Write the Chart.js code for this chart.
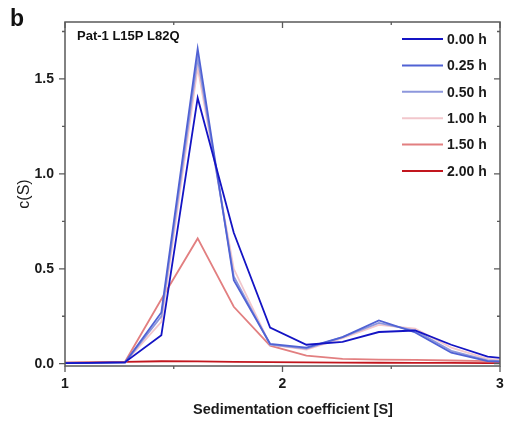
<!DOCTYPE html>
<html>
<head>
<meta charset="utf-8">
<script src="https://cdn.jsdelivr.net/npm/chart.js@4.4.1/dist/chart.umd.min.js"></script>
<style>
  html, body { margin: 0; padding: 0; background: #fff; }
  #wrap { width: 507px; height: 423px; }
</style>
</head>
<body>
<div id="wrap"><canvas id="sedChart" width="507" height="423"></canvas></div>
<script>
// sedimentation coefficient grid (S)
const sValues = [0.943, 1.11, 1.276, 1.443, 1.61, 1.776, 1.943, 2.11, 2.276, 2.443, 2.61, 2.776, 2.943, 3.11];

const c000h = [0.003, 0.004, 0.008, 0.15, 1.40, 0.69, 0.19, 0.10, 0.115, 0.167, 0.175, 0.10, 0.037, 0.02];
const c025h = [0.003, 0.004, 0.006, 0.27, 1.66, 0.44, 0.105, 0.085, 0.14, 0.228, 0.165, 0.058, 0.014, 0.005];
const c050h = [0.003, 0.004, 0.006, 0.25, 1.61, 0.46, 0.10, 0.08, 0.14, 0.215, 0.175, 0.068, 0.018, 0.006];
const c100h = [0.003, 0.004, 0.006, 0.22, 1.56, 0.50, 0.10, 0.075, 0.135, 0.205, 0.185, 0.085, 0.025, 0.01];
const c150h = [0.004, 0.006, 0.01, 0.34, 0.66, 0.30, 0.095, 0.043, 0.026, 0.022, 0.02, 0.017, 0.014, 0.012];
const c200h = [0.005, 0.007, 0.01, 0.013, 0.012, 0.01, 0.008, 0.007, 0.006, 0.005, 0.004, 0.004, 0.003, 0.003];

const seriesLabels = ['0.00 h', '0.25 h', '0.50 h', '1.00 h', '1.50 h', '2.00 h'];
const seriesColors = ['#1414c4', '#5062d4', '#8d97dc', '#f2c7cc', '#e27f80', '#c2161e'];

const yTicks = [0, 0.25, 0.5, 0.75, 1.0, 1.25, 1.5, 1.75];
const xTicks = [1, 1.5, 2, 2.5, 3];

const allSeries = [c000h, c025h, c050h, c100h, c150h, c200h];

const datasets = allSeries.map((vals, i) => ({
  label: seriesLabels[i],
  data: vals.map((v, j) => ({ x: sValues[j], y: v })),
  borderColor: seriesColors[i],
  backgroundColor: seriesColors[i],
  borderWidth: 1.8,
  pointRadius: 0,
  showLine: true,
  tension: 0
}));

// frame, inward/outward ticks, legend and texts
const decorations = {
  id: 'decorations',
  afterDraw(chart) {
    const { ctx, chartArea: a, scales } = chart;
    const xs = scales.x, ys = scales.y;
    ctx.save();
    ctx.strokeStyle = '#5a5a5a';
    ctx.lineWidth = 1.5;
    ctx.strokeRect(a.left, a.top, a.right - a.left, a.bottom - a.top);

    ctx.lineWidth = 1.3;
    ctx.beginPath();
    yTicks.forEach(v => {
      const y = ys.getPixelForValue(v);
      const major = Math.abs(v * 2 - Math.round(v * 2)) < 1e-6;
      const len = major ? 6 : 3;
      ctx.moveTo(a.left - len, y); ctx.lineTo(a.left, y);
      ctx.moveTo(a.right, y); ctx.lineTo(a.right - len, y);
    });
    xTicks.forEach(v => {
      const x = xs.getPixelForValue(v);
      const major = Math.abs(v - Math.round(v)) < 1e-6;
      const len = major ? 6 : 3;
      ctx.moveTo(x, a.bottom); ctx.lineTo(x, a.bottom + len);
      ctx.moveTo(x, a.top); ctx.lineTo(x, a.top + len);
    });
    ctx.stroke();

    // legend
    ctx.font = 'bold 14px "Liberation Sans", Arial, sans-serif';
    ctx.textBaseline = 'middle';
    ctx.textAlign = 'left';
    chart.data.datasets.forEach((ds, i) => {
      const y = 39 + i * 26.4;
      ctx.strokeStyle = ds.borderColor;
      ctx.lineWidth = 2;
      ctx.beginPath();
      ctx.moveTo(402, y); ctx.lineTo(443, y);
      ctx.stroke();
      ctx.fillStyle = '#1a1a1a';
      ctx.fillText(ds.label, 447, y + 1);
    });

    // x axis title (sits right of the plot centre in the original)
    ctx.textAlign = 'center';
    ctx.font = 'bold 14.5px "Liberation Sans", Arial, sans-serif';
    ctx.fillText('Sedimentation coefficient [S]', 293, 410);

    // panel letter and sample name
    ctx.textAlign = 'left';
    ctx.fillStyle = '#111';
    ctx.font = 'bold 23px "Liberation Sans", Arial, sans-serif';
    ctx.textBaseline = 'alphabetic';
    ctx.fillText('b', 10, 26);
    ctx.font = 'bold 13px "Liberation Sans", Arial, sans-serif';
    ctx.fillText('Pat-1 L15P L82Q', 77, 40);
    ctx.restore();
  }
};

const fontBold = { family: '"Liberation Sans", Arial, sans-serif', size: 14, weight: 'bold' };

new Chart(document.getElementById('sedChart'), {
  type: 'scatter',
  data: { datasets: datasets },
  options: {
    responsive: false,
    animation: false,
    layout: { padding: { top: 22, right: 7, left: 0, bottom: 0 } },
    plugins: {
      legend: { display: false },
      tooltip: { enabled: false }
    },
    scales: {
      x: {
        type: 'linear',
        min: 1,
        max: 3,
        afterBuildTicks: s => { s.ticks = xTicks.map(v => ({ value: v })); },
        afterFit: s => { s.height = 57; s.paddingLeft = 0; s.paddingRight = 0; },
        grid: { display: true, drawOnChartArea: false, drawTicks: false },
        border: { display: false },
        ticks: {
          padding: 10,
          color: '#1a1a1a',
          font: fontBold,
          maxRotation: 0,
          callback: v => (Math.abs(v - Math.round(v)) < 1e-6 ? String(v) : '')
        },
        title: { display: false }
      },
      y: {
        type: 'linear',
        min: -0.012,
        max: 1.8,
        afterBuildTicks: s => { s.ticks = yTicks.map(v => ({ value: v })); },
        afterFit: s => { s.width = 65; s.paddingTop = 0; s.paddingBottom = 0; },
        grid: { display: true, drawOnChartArea: false, drawTicks: false },
        border: { display: false },
        ticks: {
          padding: 11,
          color: '#1a1a1a',
          font: fontBold,
          callback: v => (Math.abs(v * 2 - Math.round(v * 2)) < 1e-6 ? v.toFixed(1) : '')
        },
        title: {
          display: true,
          text: 'c(S)',
          color: '#1a1a1a',
          font: { family: '"Liberation Sans", Arial, sans-serif', size: 16 },
          padding: { top: 15, bottom: 4 }
        }
      }
    }
  },
  plugins: [decorations]
});
</script>
</body>
</html>
